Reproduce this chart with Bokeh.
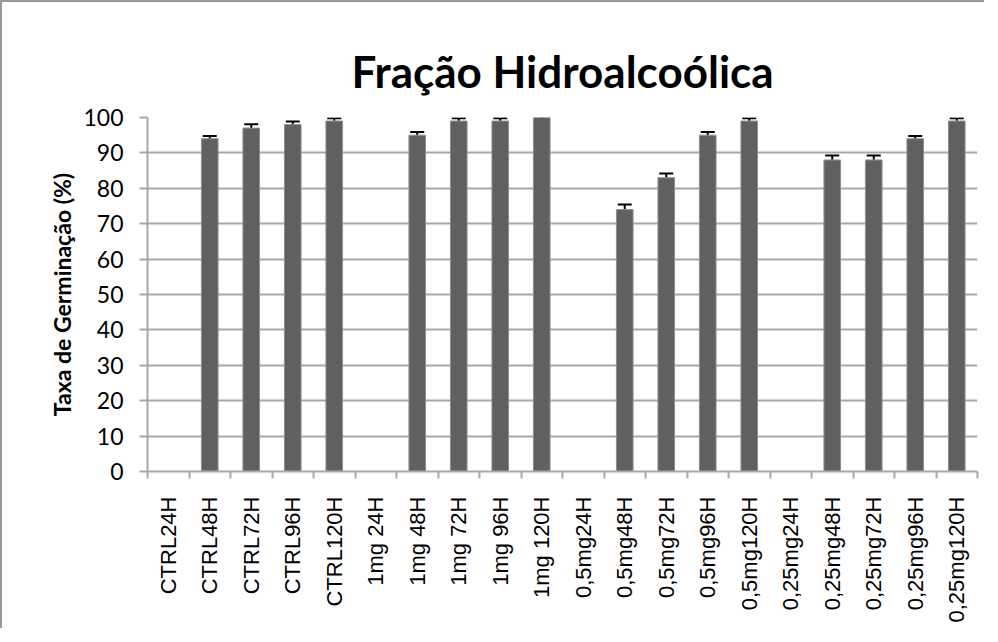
from bokeh.plotting import figure
from bokeh.models import ColumnDataSource, Range1d, FixedTicker, Whisker, TeeHead
from bokeh.embed import file_html
from bokeh.resources import INLINE

categories = ["CTRL24H", "CTRL48H", "CTRL72H", "CTRL96H", "CTRL120H",
              "1mg 24H", "1mg 48H", "1mg 72H", "1mg 96H", "1mg 120H",
              "0,5mg24H", "0,5mg48H", "0,5mg72H", "0,5mg96H", "0,5mg120H",
              "0,25mg24H", "0,25mg48H", "0,25mg72H", "0,25mg96H", "0,25mg120H"]
germination = [0, 94, 97, 98, 99,
               0, 95, 99, 99, 100,
               0, 74, 83, 95, 99,
               0, 88, 88, 94, 99]
error = [0, 0.8, 1.1, 0.9, 0.8,
         0, 0.9, 0.8, 0.8, 0.5,
         0, 1.4, 1.2, 0.9, 0.8,
         0, 1.3, 1.3, 0.8, 0.8]
y_ticks = [0, 10, 20, 30, 40, 50, 60, 70, 80, 90, 100]

n = len(categories)
centers = [i + 0.5 for i in range(n)]
bounds = list(range(n + 1))

src = ColumnDataSource(dict(x=centers, top=germination, cat=categories))
ex, eu, el = [], [], []
for c, v, e in zip(centers, germination, error):
    if e > 0:
        ex.append(c)
        eu.append(v + e)
        el.append(v - e)
esrc = ColumnDataSource(dict(x=ex, upper=eu, lower=el))

grid_col = "#a8a8a8"

p = figure(width=982, height=626, output_backend="svg", toolbar_location=None,
           x_range=Range1d(0, n), y_range=Range1d(0, 100),
           frame_width=830, frame_height=354,
           min_border_left=145, min_border_right=7, min_border_top=115, min_border_bottom=157,
           title="Fração Hidroalcoólica")
p.styles = {"border-top": "2px solid #999999", "border-left": "2px solid #999999"}

p.title.align = "center"
p.title.text_font = "Lato"
p.title.text_font_style = "bold"
p.title.text_font_size = "44px"
p.title.text_color = "#000000"
p.title.standoff = 42

p.outline_line_color = None
p.background_fill_color = "white"
p.border_fill_color = "white"

p.vbar(x="x", top="top", width=0.4, bottom=0, source=src,
       fill_color="#606060", line_color="#8f8f8f", line_width=1)

wh = Whisker(base="x", upper="upper", lower="lower", source=esrc,
             line_color="black", line_width=2,
             upper_head=TeeHead(size=14, line_color="black", line_width=2),
             lower_head=TeeHead(size=14, line_color="black", line_width=2))
p.add_layout(wh)

# x axis
p.xaxis.ticker = FixedTicker(ticks=centers, minor_ticks=bounds)
p.xaxis.major_label_overrides = {c: lab for c, lab in zip(centers, categories)}
p.xaxis.major_label_orientation = 1.5707963
p.xaxis.major_tick_out = 0
p.xaxis.major_tick_in = 0
p.xaxis.minor_tick_out = 7
p.xaxis.minor_tick_in = 0
p.xaxis.minor_tick_line_color = grid_col
p.xaxis.minor_tick_line_width = 2
p.xaxis.axis_line_color = grid_col
p.xaxis.axis_line_width = 2
p.xaxis.major_label_text_font = "Liberation Sans"
p.xaxis.major_label_text_font_size = "22px"
p.xaxis.major_label_text_color = "#000000"
p.xaxis.major_label_standoff = 18

# y axis
p.yaxis.ticker = FixedTicker(ticks=y_ticks)
p.yaxis.minor_tick_line_color = None
p.yaxis.major_tick_out = 8
p.yaxis.major_tick_in = 0
p.yaxis.major_tick_line_color = grid_col
p.yaxis.major_tick_line_width = 2
p.yaxis.axis_line_color = grid_col
p.yaxis.axis_line_width = 2
p.yaxis.major_label_text_font = "Lato"
p.yaxis.major_label_text_font_size = "23px"
p.yaxis.major_label_text_color = "#000000"
p.yaxis.major_label_standoff = 16
p.yaxis.axis_label = "Taxa de Germinação (%)"
p.yaxis.axis_label_text_font = "Lato"
p.yaxis.axis_label_text_font_style = "bold"
p.yaxis.axis_label_text_font_size = "23px"
p.yaxis.axis_label_text_color = "#000000"
p.yaxis.axis_label_standoff = 4

p.xgrid.grid_line_color = None
p.ygrid.ticker = FixedTicker(ticks=y_ticks)
p.ygrid.grid_line_color = grid_col
p.ygrid.grid_line_width = 2

open("out.html", "w").write(file_html(p, INLINE))
